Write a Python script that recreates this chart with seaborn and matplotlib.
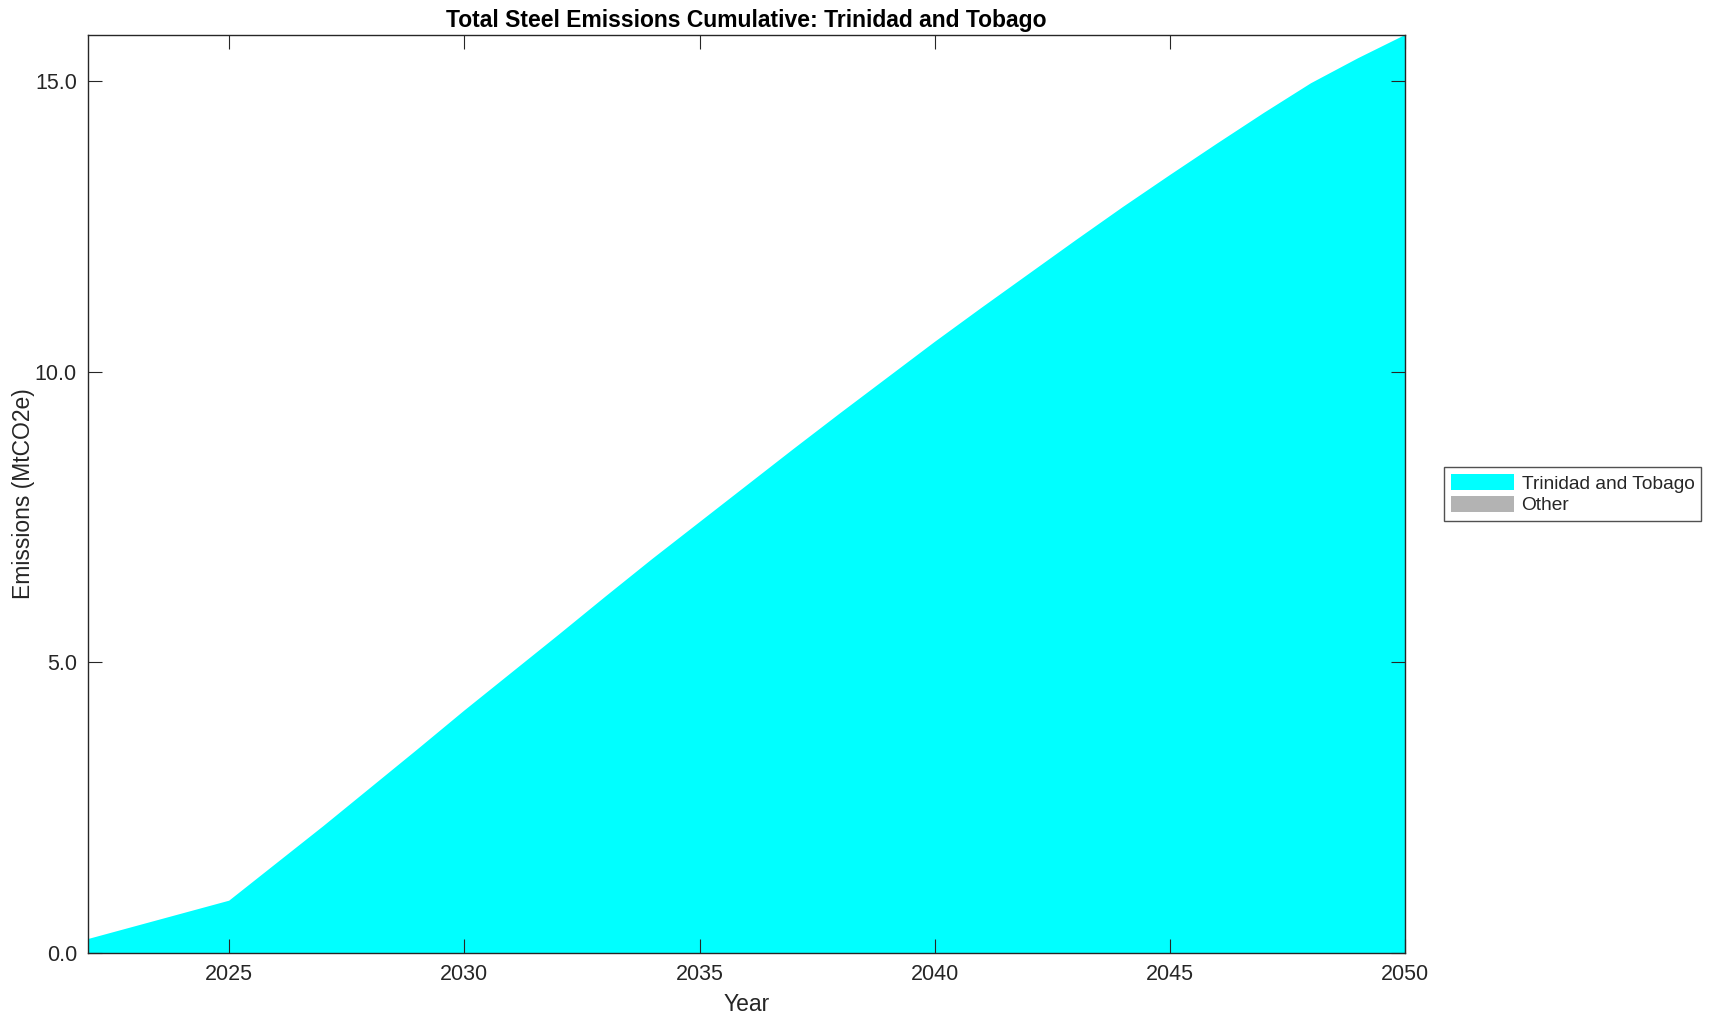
import numpy as np
import seaborn as sns
import matplotlib.pyplot as plt
from matplotlib.ticker import FormatStrFormatter

# Data (cumulative emissions, MtCO2e)
years = list(range(2022, 2051))
trinidad = [0.24, 0.46, 0.68, 0.90, 1.54, 2.18, 2.84, 3.50, 4.17,
            4.82, 5.47, 6.13, 6.78, 7.41, 8.04, 8.67, 9.29, 9.90,
            10.51, 11.10, 11.68, 12.26, 12.83, 13.38, 13.92, 14.45,
            14.96, 15.39, 15.79]
other = [0.0] * len(years)
series_labels = ["Trinidad and Tobago", "Other"]
series_colors = ["#00FFFF", "#B3B3B3"]

sns.set_theme(style="ticks")
plt.rcParams['font.family'] = ['Liberation Sans', 'DejaVu Sans']

fig = plt.figure(figsize=(17.17, 10.21), dpi=100)
ax = fig.add_axes([0.0513, 0.0666, 0.7670, 0.8991])

ax.stackplot(years, trinidad, other, labels=series_labels,
             colors=series_colors, linewidth=0, edgecolor="none")

ax.set_xlim(2022, 2050)
ax.set_ylim(0, max(trinidad))
ax.set_xticks([2025, 2030, 2035, 2040, 2045, 2050])
ax.set_yticks([0, 5, 10, 15])
ax.yaxis.set_major_formatter(FormatStrFormatter('%.1f'))

# ticks on all four sides, drawn over the filled area
ax.set_axisbelow(False)
ax.xaxis.set_ticks_position("both")
ax.yaxis.set_ticks_position("both")

dark = "#262626"
for sp in ax.spines.values():
    sp.set_visible(True)
    sp.set_color(dark)
    sp.set_linewidth(1.0)
ax.tick_params(direction="in", length=10, width=0.8, color=dark,
               labelsize=15.5, labelcolor=dark, pad=8)

ax.set_title("Total Steel Emissions Cumulative: Trinidad and Tobago",
             fontsize=16.5, fontweight="bold", color="black", pad=6)
ax.set_xlabel("Year", fontsize=16.5, color=dark, labelpad=6)
ax.set_ylabel("Emissions (MtCO2e)", fontsize=16.5, color=dark, labelpad=0)

leg = fig.legend(loc="center left", bbox_to_anchor=(0.841, 0.516),
                 fontsize=13.8, frameon=True, fancybox=False,
                 handlelength=3.3, handleheight=0.9, labelspacing=0.15,
                 borderpad=0.35, handletextpad=0.4, borderaxespad=0)
leg.get_frame().set_edgecolor(dark)
leg.get_frame().set_linewidth(1.0)

fig.savefig("out.png", dpi=100)
